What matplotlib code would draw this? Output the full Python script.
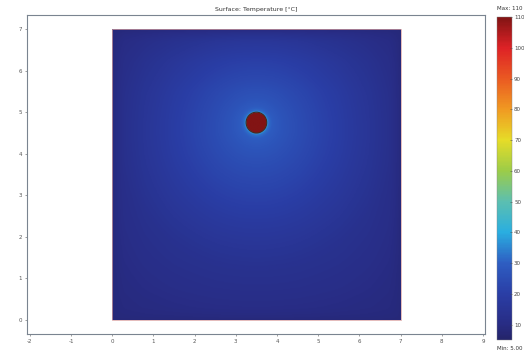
import numpy as np
import matplotlib
matplotlib.use("Agg")
import matplotlib.pyplot as plt
from matplotlib.colors import LinearSegmentedColormap
from matplotlib.patches import Circle, Rectangle

# ---- data ----
title = "Surface: Temperature [°C]"
domain_x = [0.0, 7.0]
domain_y = [0.0, 7.0]
source_center = [3.5, 4.75]
source_radius = 0.25
t_min = 5.0
t_max = 110.0
t_source = 110.0
t_edge = 8.0
# radial temperature profile outside the source (distance, °C)
profile_r = [0.25, 0.30, 0.40, 0.60, 1.00, 1.50, 2.00, 2.50, 3.50, 5.00, 6.50]
profile_t = [40.0, 33.0, 30.0, 28.0, 25.5, 23.0, 20.5, 18.0, 14.0, 11.0, 9.5]
# boundary taper (distance to an edge, fraction)
taper_d = [0.0, 0.3, 0.8, 1.5, 2.5, 4.0]
taper_f = [0.0, 0.45, 0.72, 0.88, 0.96, 1.0]
xticks = [-2, -1, 0, 1, 2, 3, 4, 5, 6, 7, 8, 9]
xticklabels = ["-2", "-1", "0", "1", "2", "3", "4", "5", "6", "7", "8", "9"]
yticks = [0, 1, 2, 3, 4, 5, 6, 7]
cbar_ticks = [10, 20, 30, 40, 50, 60, 70, 80, 90, 100, 110]
cmap_levels = [5, 10, 20, 30, 40, 50, 60, 70, 80, 90, 100, 110]
cmap_colors = ["#24246a", "#282c84", "#2a3ea6", "#2e5ec2", "#2aaee0", "#5cbfb0",
               "#9ccc48", "#e6dc28", "#f09a22", "#ea5a22", "#de2226", "#821414"]

cmap = LinearSegmentedColormap.from_list(
    "comsol", list(zip([(v - t_min) / (t_max - t_min) for v in cmap_levels], cmap_colors)))

# build field
n = 400
xs = np.linspace(domain_x[0], domain_x[1], n)
ys = np.linspace(domain_y[0], domain_y[1], n)
X, Y = np.meshgrid(xs, ys)
R = np.hypot(X - source_center[0], Y - source_center[1])
F = np.ones_like(X)
for d in (X - domain_x[0], domain_x[1] - X, Y - domain_y[0], domain_y[1] - Y):
    F *= np.interp(d, taper_d, taper_f)
F = np.sqrt(F)
Tr = np.interp(R, profile_r, profile_t)
T = t_edge + (Tr - t_edge) * F
T[R <= source_radius] = t_source

W, H = 524, 355
fig = plt.figure(figsize=(W / 100, H / 100), dpi=100)
ax = fig.add_axes([27 / W, (H - 334) / H, (485 - 27) / W, (334 - 15) / H])
im = ax.imshow(T, extent=[domain_x[0], domain_x[1], domain_y[0], domain_y[1]], origin="lower",
               cmap=cmap, vmin=t_min, vmax=t_max, interpolation="bilinear", zorder=1)
ax.add_patch(Circle(source_center, source_radius, fill=False, ec="#4a2a20", lw=0.8, zorder=3))
ax.add_patch(Rectangle((domain_x[0], domain_y[0]), domain_x[1] - domain_x[0], domain_y[1] - domain_y[0],
                       fill=False, ec="#d9a0a0", lw=0.5, zorder=3))
ax.set_xlim(-2.07, 9.05)
ax.set_ylim(-0.34, 7.34)
ax.set_aspect("auto")
ax.set_xticks(xticks)
ax.set_xticklabels(xticklabels)
ax.set_yticks(yticks)
ax.tick_params(labelsize=4, colors="#555555", length=1.5, width=0.4, pad=2)
for s in ax.spines.values():
    s.set_color("#7a8490")
    s.set_linewidth(0.8)
ax.set_title(title, fontsize=4.5, color="#333333", pad=3)

cax = fig.add_axes([497 / W, (H - 340) / H, 15 / W, (340 - 17) / H])
cb = fig.colorbar(im, cax=cax, ticks=cbar_ticks)
cb.outline.set_linewidth(0.3)
cb.outline.set_edgecolor("#888888")
cax.tick_params(labelsize=4, colors="#444444", length=1.5, width=0.4, pad=1.5, direction="in")
fig.text(510 / W, 1 - 8 / H, "Max: 110", fontsize=4, ha="center", va="center", color="#333333")
fig.text(510 / W, 1 - 349 / H, "Min: 5.00", fontsize=4, ha="center", va="center", color="#333333")

fig.savefig("out.png", dpi=100)
